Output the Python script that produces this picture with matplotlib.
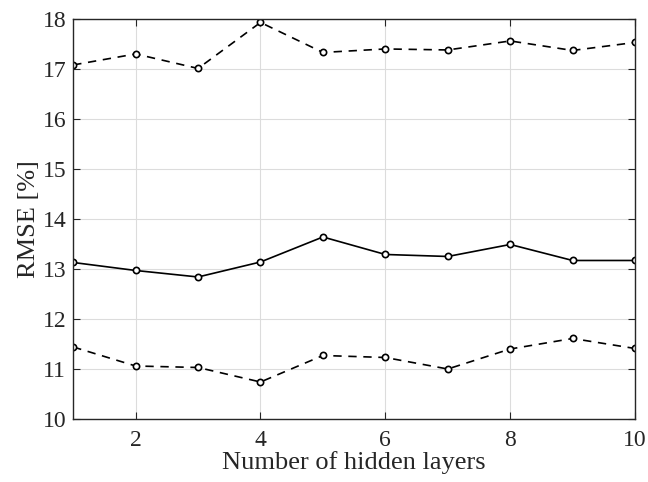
import numpy as np
import matplotlib.pyplot as plt

plt.rcParams['font.family'] = ['Liberation Serif', 'DejaVu Serif']

layers = [1, 2, 3, 4, 5, 6, 7, 8, 9, 10]
rmse_upper = [17.08, 17.30, 17.01, 17.93, 17.33, 17.40, 17.38, 17.56, 17.37, 17.53]
rmse_mean = [13.13, 12.97, 12.84, 13.14, 13.64, 13.29, 13.25, 13.49, 13.17, 13.17]
rmse_lower = [11.44, 11.06, 11.03, 10.74, 11.27, 11.23, 11.00, 11.40, 11.61, 11.41]

fig = plt.figure(figsize=(6.48, 4.82), dpi=100)
ax = fig.add_axes([0.113, 0.1307, 0.867, 0.83])

style = dict(color='black', marker='o', markersize=4.5, markerfacecolor='white',
             markeredgewidth=1.2, linewidth=1.2)
ax.plot(layers, rmse_upper, linestyle=(0, (5, 4)), **style)
ax.plot(layers, rmse_mean, linestyle='-', **style)
ax.plot(layers, rmse_lower, linestyle=(0, (5, 4)), **style)

ax.set_xlim(1, 10)
ax.set_ylim(10, 18)
ax.set_xticks([2, 4, 6, 8, 10])
ax.set_yticks(np.arange(10, 19, 1))
ax.grid(True, color='#dcdcdc', linewidth=0.8)
ax.set_axisbelow(True)
ax.tick_params(direction='in', top=True, right=True, labelsize=17, colors='#262626',
               length=5)
ax.tick_params(axis='x', pad=8)
ax.tick_params(axis='y', pad=5)
for s in ax.spines.values():
    s.set_color('#262626')
    s.set_linewidth(1.0)

ax.set_xlabel('Number of hidden layers', fontsize=19, color='#262626', labelpad=0)
ax.set_ylabel('RMSE [%]', fontsize=19, color='#262626', labelpad=2)

fig.savefig('out.png', dpi=100)
